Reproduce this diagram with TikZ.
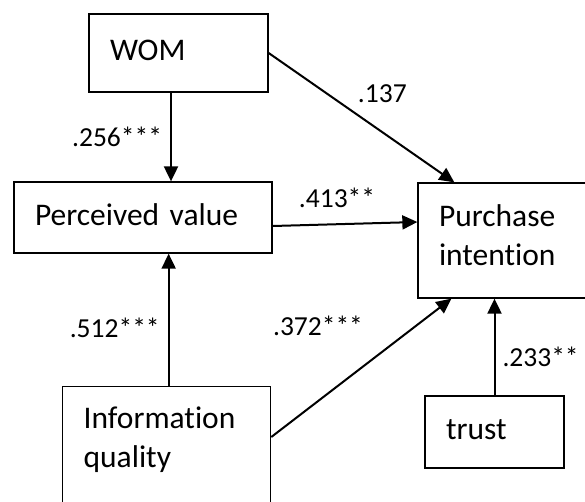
\documentclass[tikz,border=0pt]{standalone}
\usepackage{fontspec}
\setmainfont{Carlito}[Ligatures=NoCommon]
\usetikzlibrary{arrows.meta, positioning}
\tikzset{
	varbox/.style={draw, line width=1.3pt, align=left, inner xsep=21pt, font=\fontsize{31.5}{39}\selectfont, execute at end node=\strut},
	patharr/.style={-{Triangle[length=15pt, width=14pt]}, line width=2pt},
	coef/.style={font=\fontsize{27.5}{33}\selectfont, inner sep=1pt},
}

\begin{document}
\begin{tikzpicture}[x=1pt, y=-1pt]
		\useasboundingbox (0,0) rectangle (585,501);
		\clip (0,0) rectangle (585,501);

		% Constructs
		\node[varbox, text width=137pt, minimum height=78pt] (wom) at (178.5,53) {WOM};
		\node[varbox, text width=216pt, minimum height=71pt] (pv) at (143,217.5) {Perceived value};
		\node[varbox, text width=140pt, minimum height=115pt] (pi) at (509,240.5) {Purchase\\intention};
		\node[varbox, text width=166pt, inner ysep=20pt, anchor=north west] (iq) at (62,386) {Information\\quality\rule[-80pt]{0pt}{0pt}};
		\node[varbox, text width=97pt, minimum height=72pt] (trust) at (494.5,432) {trust};

		% Paths with coefficients
		\draw[patharr] ([xshift=-7.5pt]wom.south) -- ([xshift=-7.5pt]wom.south |- pv.north)
			node[coef, midway, left=7pt] {.256***};
		\draw[patharr] (wom.east) -- ([xshift=37pt]pi.north west)
			node[coef, pos=0.47, above right=9pt and 0pt] {.137};
		\draw[patharr] ([yshift=-8.5pt]pv.east) -- ([yshift=18.5pt]pi.west)
			node[coef, pos=0.445, above=15pt] {.413**};
		\draw[patharr] ([xshift=2pt]iq.north) -- ([xshift=2pt]iq.north |- pv.south)
			node[coef, pos=0.44, left=7pt] {.512***};
		\draw[patharr] ([yshift=-51pt]iq.north east) -- ([xshift=34pt]pi.south west)
			node[coef, pos=0.52, above left=27pt and 0pt] {.372***};
		\draw[patharr] (trust.north) -- (trust.north |- pi.south)
			node[coef, pos=0.4, right=6pt] {.233**};
	\end{tikzpicture}
\end{document}
